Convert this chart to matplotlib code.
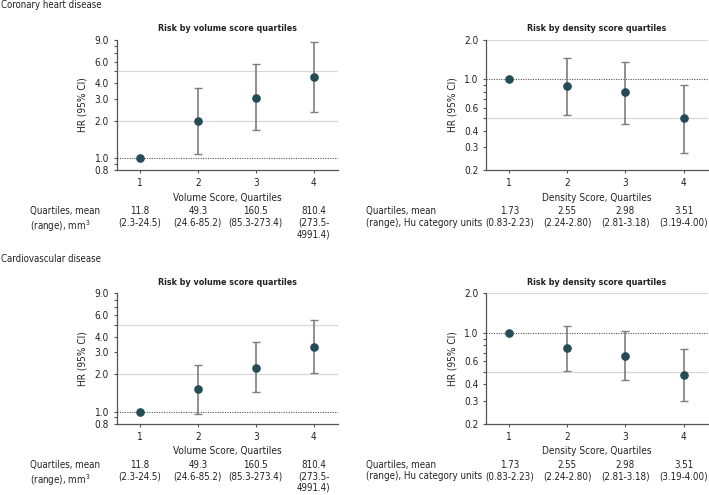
import numpy as np
import matplotlib
matplotlib.use("Agg")
import matplotlib.pyplot as plt
from matplotlib import font_manager as fm
from matplotlib.ticker import FixedLocator, NullFormatter

# pick a narrow font if one is there, the original uses a condensed face
available = {(f.name, f.stretch) for f in fm.fontManager.ttflist}
names = {n for n, s in available}
if "Liberation Sans Narrow" in names:
    plt.rcParams['font.family'] = ['Liberation Sans Narrow', 'DejaVu Sans']
    FS = 8.3
elif ("DejaVu Sans", "condensed") in available:
    plt.rcParams['font.family'] = ['DejaVu Sans']
    plt.rcParams['font.stretch'] = 'condensed'
    FS = 7.2
else:
    plt.rcParams['font.family'] = ['Liberation Sans', 'DejaVu Sans']
    FS = 7.2

quartiles = [1, 2, 3, 4]

# hazard ratios
chd_vol_hr = [1.0, 2.0, 3.07, 4.47]
chd_vol_lo = [1.0, 1.07, 1.68, 2.33]
chd_vol_hi = [1.0, 3.70, 5.76, 8.6]

chd_den_hr = [1.0, 0.89, 0.79, 0.50]
chd_den_lo = [1.0, 0.53, 0.45, 0.27]
chd_den_hi = [1.0, 1.45, 1.36, 0.905]

cvd_vol_hr = [1.0, 1.51, 2.27, 3.35]
cvd_vol_lo = [1.0, 0.95, 1.43, 2.05]
cvd_vol_hi = [1.0, 2.40, 3.63, 5.52]

cvd_den_hr = [1.0, 0.76, 0.66, 0.47]
cvd_den_lo = [1.0, 0.51, 0.43, 0.30]
cvd_den_hi = [1.0, 1.13, 1.02, 0.75]

vol_ticks = [0.8, 1.0, 2.0, 3.0, 4.0, 6.0, 9.0]
vol_minor = [0.9, 5, 7, 8]
vol_grid = [2.0, 5.0]
den_ticks = [0.2, 0.3, 0.4, 0.6, 1.0, 2.0]
den_minor = [0.5, 0.7, 0.8, 0.9]
den_grid = [0.5, 2.0]

vol_mean = ["11.8", "49.3", "160.5", "810.4"]
vol_range = ["(2.3-24.5)", "(24.6-85.2)", "(85.3-273.4)", "(273.5-\n4991.4)"]
den_mean = ["1.73", "2.55", "2.98", "3.51"]
den_range = ["(0.83-2.23)", "(2.24-2.80)", "(2.81-3.18)", "(3.19-4.00)"]

W, H = 709, 495
fig = plt.figure(figsize=(W / 100, H / 100), dpi=100)

POINT = "#244b56"
BAR = "#7d7d7d"
GRID = "#d8d8d8"
TXT = "#222222"


def px_axes(x0, x1, ytop, ybot):
    return fig.add_axes([x0 / W, 1 - ybot / H, (x1 - x0) / W, (ybot - ytop) / H])


def draw_panel(ax, hr, lo, hi, ylim, ticks, minor, grid, title, xlabel):
    hr = np.array(hr)
    err = np.array([hr - np.array(lo), np.array(hi) - hr])
    ax.set_yscale("log")
    ax.set_xlim(0.6, 4.42)
    ax.set_ylim(*ylim)
    for g in grid:
        ax.axhline(g, color=GRID, lw=0.9, zorder=0)
    ax.axhline(1.0, color="#555555", lw=0.8, ls=(0, (1, 1.2)), zorder=1)
    ax.errorbar(quartiles[1:], hr[1:], yerr=err[:, 1:], fmt="none",
                ecolor=BAR, elinewidth=1.2, capsize=3, capthick=1.0, zorder=2)
    ax.plot(quartiles, hr, "o", color=POINT, ms=5.2, zorder=3)
    ax.yaxis.set_major_locator(FixedLocator(ticks))
    ax.set_yticklabels(["%.1f" % t for t in ticks])
    ax.yaxis.set_minor_locator(FixedLocator(minor))
    ax.yaxis.set_minor_formatter(NullFormatter())
    ax.set_xticks(quartiles)
    for s in ["top", "right"]:
        ax.spines[s].set_visible(False)
    for s in ["left", "bottom"]:
        ax.spines[s].set_color("#555555")
        ax.spines[s].set_linewidth(0.9)
    ax.tick_params(axis="both", which="major", labelsize=FS, colors="#555555",
                   labelcolor=TXT, length=2.5, width=0.8, pad=3)
    ax.tick_params(axis="y", which="minor", length=2.2, width=0.8, colors="#555555")
    ax.tick_params(axis="x", pad=3.6)
    ax.set_ylabel("HR (95% CI)", fontsize=FS, color=TXT, labelpad=5)
    ax.set_xlabel(xlabel, fontsize=FS, color=TXT, labelpad=3)
    ax.set_title(title, fontsize=FS - 0.8, fontweight="bold", color=TXT, pad=6)


def table(x_lab, ytop, ax, label2, means, ranges):
    fs = FS - 0.2
    fig.text(x_lab / W, 1 - ytop / H, "Quartiles, mean\n" + label2, fontsize=fs,
             color=TXT, va="top", ha="left", linespacing=1.2)
    for q, m, r in zip(quartiles, means, ranges):
        xf = fig.transFigure.inverted().transform(ax.transData.transform((q, 1.0)))[0]
        fig.text(xf, 1 - ytop / H, m + "\n" + r, fontsize=fs, color=TXT,
                 va="top", ha="center", linespacing=1.2)


rows = [
    ("Coronary heart disease", 0, 39.7, 170, chd_vol_hr, chd_vol_lo, chd_vol_hi,
     chd_den_hr, chd_den_lo, chd_den_hi),
    ("Cardiovascular disease", 254, 293.3, 423.7, cvd_vol_hr, cvd_vol_lo, cvd_vol_hi,
     cvd_den_hr, cvd_den_lo, cvd_den_hi),
]

for name, yhead, ytop, ybot, vhr, vlo, vhi, dhr, dlo, dhi in rows:
    fig.text(1 / W, 1 - yhead / H, name, fontsize=FS - 0.3, color=TXT, va="top", ha="left")
    axv = px_axes(116.7, 338, ytop, ybot)
    draw_panel(axv, vhr, vlo, vhi, (0.8, 9.0), vol_ticks, vol_minor, vol_grid,
               "Risk by volume score quartiles", "Volume Score, Quartiles")
    axd = px_axes(486, 708, ytop, ybot)
    draw_panel(axd, dhr, dlo, dhi, (0.2, 2.0), den_ticks, den_minor, den_grid,
               "Risk by density score quartiles", "Density Score, Quartiles")
    table(30, ybot + 36, axv, "(range), mm$^3$", vol_mean, vol_range)
    table(366, ybot + 36, axd, "(range), Hu category units", den_mean, den_range)

fig.savefig("out.png", dpi=100)
